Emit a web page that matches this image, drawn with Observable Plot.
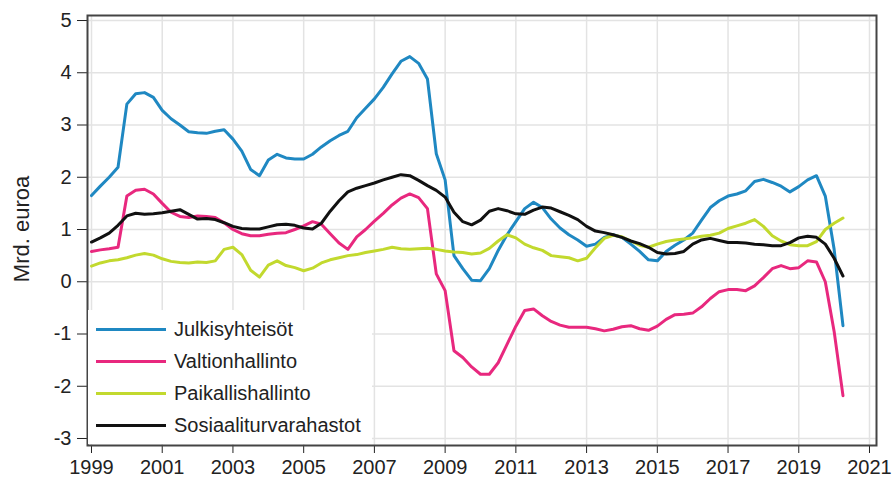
<!DOCTYPE html>
<html>
<head>
<meta charset="utf-8">
<script src="https://cdn.jsdelivr.net/npm/d3@7"></script>
<script src="https://cdn.jsdelivr.net/npm/@observablehq/plot@0.6"></script>
<style>
  body { margin: 0; background: #fff; font-family: "Liberation Sans", Arial, sans-serif; }
  #wrap { position: relative; width: 893px; height: 490px; }
  #legend { position: absolute; left: 88px; top: 310px; width: 284px; height: 134px; background: #fff; }
  .item { position: absolute; left: 0; height: 24px; display: flex; align-items: center; font-size: 20px; color: #222; }
  .sw { width: 70px; height: 3px; margin-left: 8px; margin-right: 8px; }
  #ylab { position: absolute; left: 22px; top: 229px; transform: translate(-50%, -50%) rotate(-90deg); font-size: 22px; color: #222; white-space: nowrap; }
</style>
</head>
<body>
<div id="wrap">
  <div id="chart"></div>
  <div id="ylab">Mrd. euroa</div>
  <div id="legend"></div>
</div>
<script>
const startYear = 1999;
const seriesNames = ["Julkisyhteisöt", "Valtionhallinto", "Paikallishallinto", "Sosiaaliturvarahastot"];
const seriesColors = ["#1f88c2", "#e8287e", "#c2d92e", "#111111"];
const xTicks = [1999, 2001, 2003, 2005, 2007, 2009, 2011, 2013, 2015, 2017, 2019, 2021];
const yTicks = [-3, -2, -1, 0, 1, 2, 3, 4, 5];

const julkisyhteisot = [
  1.65, 1.83, 2.00, 2.19,
  3.40, 3.60, 3.62, 3.53,
  3.28, 3.12, 3.00, 2.87,
  2.85, 2.84, 2.88, 2.91,
  2.73, 2.50, 2.15, 2.03,
  2.33, 2.44, 2.37, 2.35,
  2.35, 2.44, 2.58, 2.70,
  2.80, 2.88, 3.14, 3.32,
  3.50, 3.72, 3.98, 4.22,
  4.31, 4.18, 3.88, 2.45,
  1.95, 0.50, 0.25, 0.03,
  0.02, 0.25, 0.60, 0.90,
  1.15, 1.40, 1.52, 1.42,
  1.20, 1.03, 0.90, 0.80,
  0.68, 0.72, 0.85, 0.90,
  0.85, 0.72, 0.58, 0.42,
  0.40, 0.58, 0.70, 0.80,
  0.93, 1.18, 1.42, 1.55,
  1.64, 1.68, 1.74, 1.92,
  1.96, 1.90, 1.83, 1.72,
  1.82, 1.95, 2.03, 1.64,
  0.62, -0.84
];
const valtionhallinto = [
  0.58, 0.61, 0.63, 0.66,
  1.64, 1.75, 1.77, 1.68,
  1.50, 1.33, 1.25, 1.23,
  1.26, 1.25, 1.23, 1.13,
  1.00, 0.92, 0.88, 0.88,
  0.91, 0.93, 0.94, 1.00,
  1.07, 1.15, 1.10, 0.92,
  0.74, 0.62, 0.86, 1.00,
  1.16, 1.31, 1.47, 1.60,
  1.68, 1.61, 1.40, 0.15,
  -0.17, -1.32, -1.45, -1.63,
  -1.77, -1.77, -1.55, -1.20,
  -0.85, -0.55, -0.52, -0.65,
  -0.76, -0.83, -0.87, -0.87,
  -0.87, -0.90, -0.94, -0.91,
  -0.86, -0.84, -0.90, -0.93,
  -0.85, -0.72, -0.63, -0.62,
  -0.60, -0.48, -0.32, -0.19,
  -0.15, -0.15, -0.17, -0.08,
  0.08, 0.25, 0.31, 0.25,
  0.27, 0.40, 0.38, 0.00,
  -0.95, -2.18
];
const paikallishallinto = [
  0.30, 0.36, 0.40, 0.42,
  0.46, 0.51, 0.54, 0.51,
  0.44, 0.39, 0.37, 0.36,
  0.38, 0.37, 0.40, 0.62,
  0.66, 0.52, 0.22, 0.09,
  0.32, 0.40, 0.31, 0.27,
  0.21, 0.26, 0.36, 0.42,
  0.46, 0.50, 0.52, 0.56,
  0.59, 0.62, 0.66, 0.63,
  0.62, 0.63, 0.64, 0.62,
  0.59, 0.57, 0.56, 0.53,
  0.55, 0.64, 0.78, 0.90,
  0.84, 0.72, 0.65, 0.60,
  0.50, 0.48, 0.46, 0.40,
  0.45, 0.65, 0.83, 0.89,
  0.86, 0.78, 0.70, 0.66,
  0.72, 0.77, 0.80, 0.82,
  0.84, 0.87, 0.89, 0.93,
  1.02, 1.07, 1.12, 1.19,
  1.06, 0.88, 0.78, 0.71,
  0.69, 0.69, 0.77, 1.00,
  1.12, 1.22
];
const sosiaaliturvarahastot = [
  0.76, 0.84, 0.93, 1.08,
  1.26, 1.31, 1.29, 1.30,
  1.32, 1.35, 1.38, 1.29,
  1.20, 1.21, 1.19, 1.13,
  1.06, 1.02, 1.01, 1.01,
  1.05, 1.09, 1.10, 1.08,
  1.03, 1.01, 1.12, 1.35,
  1.55, 1.72, 1.79, 1.84,
  1.89, 1.95, 2.00, 2.05,
  2.03, 1.94, 1.84, 1.75,
  1.62, 1.33, 1.15, 1.09,
  1.18, 1.35, 1.40, 1.36,
  1.30, 1.29, 1.37, 1.43,
  1.41, 1.34, 1.27, 1.19,
  1.06, 0.97, 0.94, 0.90,
  0.85, 0.78, 0.73, 0.66,
  0.56, 0.53, 0.54, 0.58,
  0.72, 0.80, 0.83, 0.79,
  0.75, 0.75, 0.74, 0.72,
  0.71, 0.69, 0.69, 0.75,
  0.84, 0.87, 0.85, 0.72,
  0.45, 0.11
];

const allSeries = [julkisyhteisot, valtionhallinto, paikallishallinto, sosiaaliturvarahastot];
const rows = [];
allSeries.forEach((vals, s) => {
  vals.forEach((v, i) => rows.push({ t: startYear + i / 4, value: v, series: seriesNames[s] }));
});

const chart = Plot.plot({
  width: 893,
  height: 490,
  marginLeft: 87,
  marginRight: 17,
  marginTop: 15,
  marginBottom: 45,
  style: { fontFamily: '"Liberation Sans", Arial, sans-serif', fontSize: "20px", color: "#222", background: "#fff" },
  x: { type: "linear", domain: [1998.887, 2021.198], ticks: xTicks, tickFormat: d => String(d), tickSize: 8, tickPadding: 6, label: null },
  y: { domain: [-3.134, 5.096], ticks: yTicks, tickFormat: d => String(d), tickSize: 10, tickPadding: 6, label: null },
  color: { domain: seriesNames, range: seriesColors },
  marks: [
    Plot.ruleX(xTicks, { stroke: "#e3e3e3", strokeWidth: 1.5 }),
    Plot.ruleY(yTicks, { stroke: "#e3e3e3", strokeWidth: 1.5 }),
    Plot.line(rows, { x: "t", y: "value", z: "series", stroke: "series", strokeWidth: 3, strokeLinejoin: "round", strokeLinecap: "round" }),
    Plot.frame({ stroke: "#444", strokeWidth: 2 })
  ]
});
document.getElementById("chart").appendChild(chart);

const legend = document.getElementById("legend");
const rowTops = [7, 39, 71, 103];
seriesNames.forEach((name, i) => {
  const item = document.createElement("div");
  item.className = "item";
  item.style.top = rowTops[i] + "px";
  const sw = document.createElement("div");
  sw.className = "sw";
  sw.style.background = seriesColors[i];
  const label = document.createElement("span");
  label.textContent = name;
  item.appendChild(sw);
  item.appendChild(label);
  legend.appendChild(item);
});
</script>
</body>
</html>
